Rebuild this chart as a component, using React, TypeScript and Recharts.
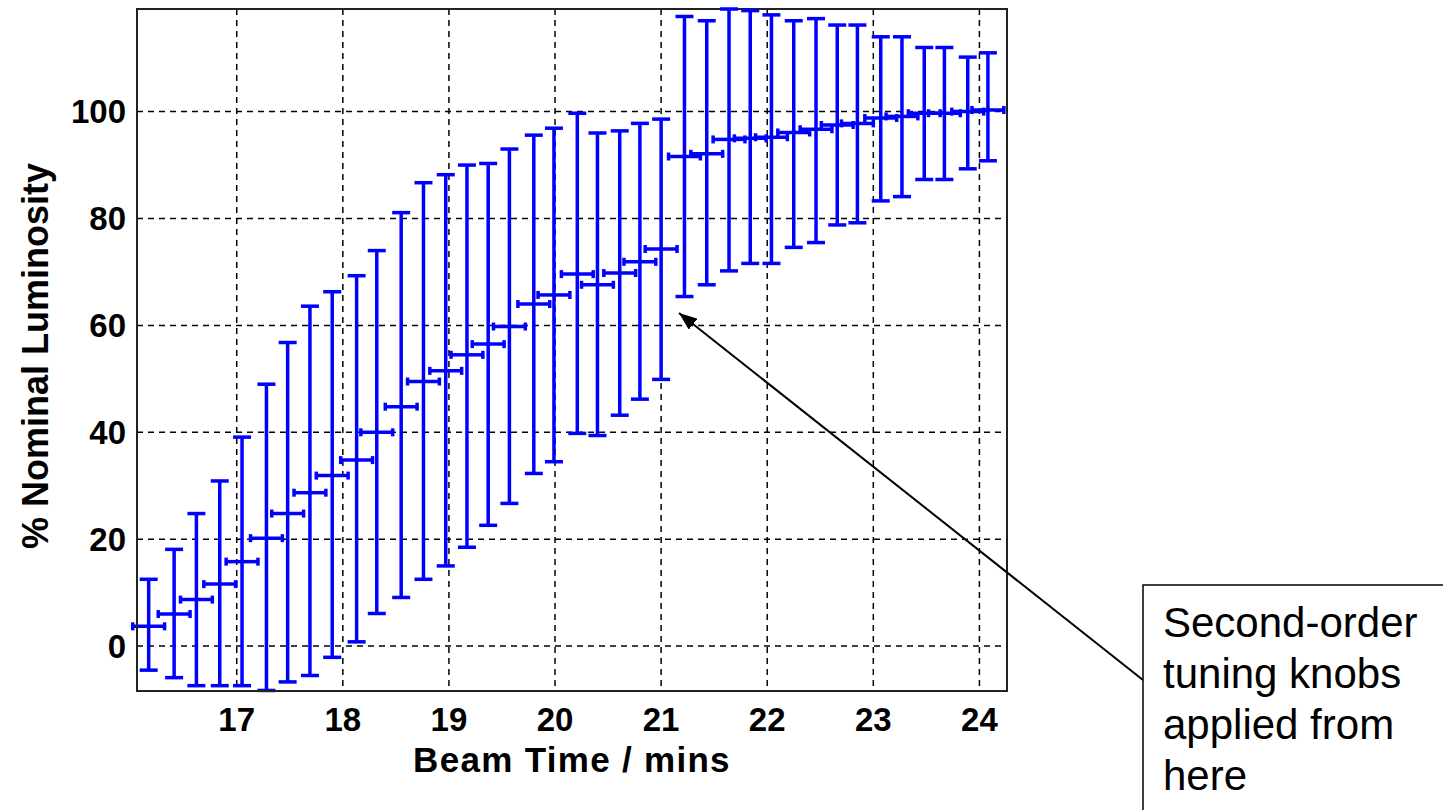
import React from "react";
import { CartesianGrid, ErrorBar, Label, ReferenceArea, Scatter, ScatterChart, XAxis, YAxis } from "recharts";

const FONT = '"Liberation Sans", Arial, Helvetica, sans-serif';
const BLUE = "#0000ff";

// beam time (mins) for each measurement
const beamTime = [
  16.17, 16.41, 16.62, 16.84, 17.05, 17.28, 17.48, 17.69, 17.9, 18.13,
  18.32, 18.55, 18.76, 18.97, 19.17, 19.37, 19.57, 19.8, 19.99, 20.21,
  20.4, 20.61, 20.8, 21.0, 21.22, 21.43, 21.64, 21.84, 22.04, 22.25,
  22.46, 22.66, 22.85, 23.07, 23.27, 23.48, 23.67, 23.89, 24.08,
];
// % nominal luminosity (centre of each bar)
const luminosity = [
  3.7, 6.0, 8.7, 11.6, 15.8, 20.2, 24.8, 28.7, 31.9, 34.8,
  40.0, 44.8, 49.5, 51.5, 54.5, 56.5, 59.8, 64.0, 65.7, 69.6,
  67.6, 69.8, 71.9, 74.3, 91.6, 92.1, 94.8, 95.0, 95.2, 96.1,
  96.7, 97.5, 97.8, 98.8, 99.1, 99.7, 99.7, 100.0, 100.3,
];
const lumiLow = [
  -4.5, -5.9, -7.4, -7.4, -7.4, -8.3, -6.7, -5.5, -2.1, 0.8,
  6.1, 9.1, 12.5, 15.0, 18.5, 22.6, 26.7, 32.3, 34.5, 39.8,
  39.4, 43.2, 46.2, 49.9, 65.4, 67.6, 70.2, 71.6, 71.6, 74.6,
  75.5, 78.8, 79.2, 83.3, 84.1, 87.3, 87.3, 89.3, 90.8,
];
const lumiHigh = [
  12.5, 18.1, 24.8, 30.9, 39.1, 49.0, 56.8, 63.6, 66.3, 69.3,
  74.0, 81.1, 86.7, 88.2, 90.0, 90.3, 93.0, 95.6, 96.9, 99.7,
  96.0, 96.4, 97.8, 98.6, 117.8, 117.0, 119.2, 118.9, 118.1, 117.0,
  117.4, 116.2, 116.2, 114.0, 114.0, 112.0, 112.0, 110.2, 111.0,
];
const X_ERR = 0.15;

const xTicks = [17, 18, 19, 20, 21, 22, 23, 24];
const yTicks = [0, 20, 40, 60, 80, 100];
const xDomain: [number, number] = [16.06, 24.26];
const yDomain: [number, number] = [-8.4, 119.2];

const data = beamTime.map((x, i) => ({
  x,
  y: luminosity[i],
  xErr: X_ERR,
  yErr: [luminosity[i] - lumiLow[i], lumiHigh[i] - luminosity[i]],
}));

const tickFont = { fontSize: 33, fontWeight: "bold", fill: "#000", fontFamily: FONT };

function YTitle(props: any) {
  const { viewBox } = props;
  const cx = 48;
  const cy = viewBox.y + viewBox.height / 2 + 6;
  return (
    <text
      x={cx}
      y={cy}
      transform={`rotate(-90 ${cx} ${cy})`}
      textAnchor="middle"
      fontSize={36}
      fontWeight="bold"
      fontFamily={FONT}
      fill="#000"
    >
      % Nominal Luminosity
    </text>
  );
}

const NoDot = () => <g />;

export default function App() {
  return (
    <div style={{ position: "absolute", left: 0, top: 0, width: 1443, height: 810, background: "#fff" }}>
      <ScatterChart width={1443} height={810} margin={{ top: 9, right: 436, bottom: 0, left: 0 }}>
        <CartesianGrid stroke="#000" strokeWidth={1.5} strokeDasharray="6 5" />
        {/* inward tick marks, MATLAB style */}
        <XAxis xAxisId="inB" type="number" orientation="bottom" mirror height={0} domain={xDomain} ticks={xTicks}
          allowDataOverflow tick={false} axisLine={false} tickSize={16} tickLine={{ stroke: "#000", strokeWidth: 2 }} />
        <XAxis xAxisId="top" type="number" orientation="top" mirror height={0} domain={xDomain} ticks={xTicks}
          allowDataOverflow tick={false} tickSize={16} axisLine={false}
          tickLine={{ stroke: "#000", strokeWidth: 2 }} />
        <YAxis yAxisId="inL" type="number" orientation="left" mirror width={0} domain={yDomain} ticks={yTicks}
          allowDataOverflow tick={false} axisLine={false} tickSize={16} tickLine={{ stroke: "#000", strokeWidth: 2 }} />
        <YAxis yAxisId="right" type="number" orientation="right" mirror width={0} domain={yDomain} ticks={yTicks}
          allowDataOverflow tick={false} tickSize={16} axisLine={false}
          tickLine={{ stroke: "#000", strokeWidth: 2 }} />
        <XAxis
          dataKey="x"
          type="number"
          domain={xDomain}
          ticks={xTicks}
          allowDataOverflow
          height={119}
          tickLine={false}
          tickSize={0}
          tickMargin={17}
          axisLine={{ stroke: "#222", strokeWidth: 2 }}
          tick={tickFont}
        >
          <Label value="Beam Time / mins" position="insideTop" offset={56} fontSize={35} fontWeight="bold"
            fontFamily={FONT} fill="#000" letterSpacing={1.3} />
        </XAxis>
        <YAxis
          dataKey="y"
          type="number"
          domain={yDomain}
          ticks={yTicks}
          allowDataOverflow
          width={137}
          tickLine={false}
          tickSize={0}
          tickMargin={11}
          axisLine={{ stroke: "#222", strokeWidth: 2 }}
          tick={tickFont}
        >
          <Label content={YTitle} />
        </YAxis>
        <ReferenceArea x1={xDomain[0]} x2={xDomain[1]} y1={yDomain[0]} y2={yDomain[1]} fill="none"
          stroke="#222" strokeWidth={2} fillOpacity={0} ifOverflow="visible" />
        <Scatter data={data} shape={NoDot} isAnimationActive={false}>
          <ErrorBar dataKey="yErr" direction="y" width={9} stroke={BLUE} strokeWidth={3.5} isAnimationActive={false} />
          <ErrorBar dataKey="xErr" direction="x" width={4} stroke={BLUE} strokeWidth={3.5} isAnimationActive={false} />
        </Scatter>
      </ScatterChart>

      <svg width={1443} height={810} style={{ position: "absolute", left: 0, top: 0, pointerEvents: "none" }}>
        <defs>
          <marker id="head" viewBox="0 0 18 14" refX="18" refY="7" markerWidth="18" markerHeight="14"
            markerUnits="userSpaceOnUse" orient="auto">
            <path d="M0,0 L18,7 L0,14 z" fill="#000" />
          </marker>
        </defs>
        <line x1={1143} y1={680} x2={679} y2={313} stroke="#000" strokeWidth={2} markerEnd="url(#head)" />
        <rect x={1143} y={585} width={320} height={240} fill="#fff" stroke="#000" strokeWidth={1.5} />
        <g fontFamily={FONT} fontSize={42} fill="#000">
          <text x={1163} y={637}>Second-order</text>
          <text x={1163} y={688}>tuning knobs</text>
          <text x={1163} y={739}>applied from</text>
          <text x={1163} y={790}>here</text>
        </g>
      </svg>
    </div>
  );
}
